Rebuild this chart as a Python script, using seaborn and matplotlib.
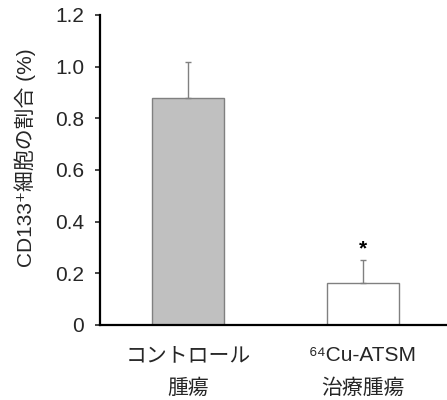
"""
CD133+ 細胞の割合: コントロール腫瘍 vs 64Cu-ATSM 治療腫瘍 の棒グラフ.
"""

import matplotlib
matplotlib.use("Agg")
import matplotlib.pyplot as plt
import pandas as pd
import seaborn as sns

# datos
categorias = ["コントロール\n腫瘍", "⁶⁴Cu-ATSM\n治療腫瘍"]
valores = [0.879, 0.161]
errores = [0.138, 0.090]
significativo = [False, True]

etiquetas_y = ["0", "0.2", "0.4", "0.6", "0.8", "1.0", "1.2"]
ticks_y = [0, 0.2, 0.4, 0.6, 0.8, 1.0, 1.2]

sns.set_style("ticks")
plt.rcParams["font.family"] = ["Liberation Sans", "Noto Sans CJK JP", "DejaVu Sans"]

df = pd.DataFrame({"grupo": categorias, "valor": valores})

fig = plt.figure(figsize=(4.47, 4.0), dpi=100)
ax = fig.add_axes([0.2237, 0.1875, 0.7763, 0.775])

sns.barplot(
    data=df, x="grupo", y="valor", hue="grupo",
    palette=["#c0c0c0", "#ffffff"], edgecolor="#808080", linewidth=1.0,
    width=0.406, legend=False, ax=ax,
)

# barras de error solo hacia arriba
xs = list(range(len(categorias)))
ax.errorbar(
    xs, valores, yerr=[[0] * len(errores), errores],
    fmt="none", ecolor="#808080", elinewidth=1.0, capsize=2, capthick=1.0,
)

for x, v, e, sig in zip(xs, valores, errores, significativo):
    if sig:
        ax.text(x, v + e + 0.045, "*", ha="center", va="center",
                fontsize=15, fontweight="bold", color="black")

ax.set_xlim(-0.503, 1.48)
ax.set_ylim(0, 1.2)
ax.set_yticks(ticks_y)
ax.set_yticklabels(etiquetas_y)
ax.tick_params(axis="y", labelsize=15, length=3.5, width=1.2, direction="out", pad=8)
ax.tick_params(axis="x", labelsize=15, length=0, pad=15)
for lbl in ax.get_xticklabels():
    lbl.set_linespacing(1.9)

ax.set_xlabel("")
ax.set_ylabel("CD133⁺細胞の割合 (%)", fontsize=15)
ax.yaxis.set_label_coords(-0.185, 0.54)

sns.despine(ax=ax)
for lado in ("left", "bottom"):
    ax.spines[lado].set_linewidth(1.6)
    ax.spines[lado].set_color("black")

plt.savefig("out.png", dpi=100)
plt.close()
